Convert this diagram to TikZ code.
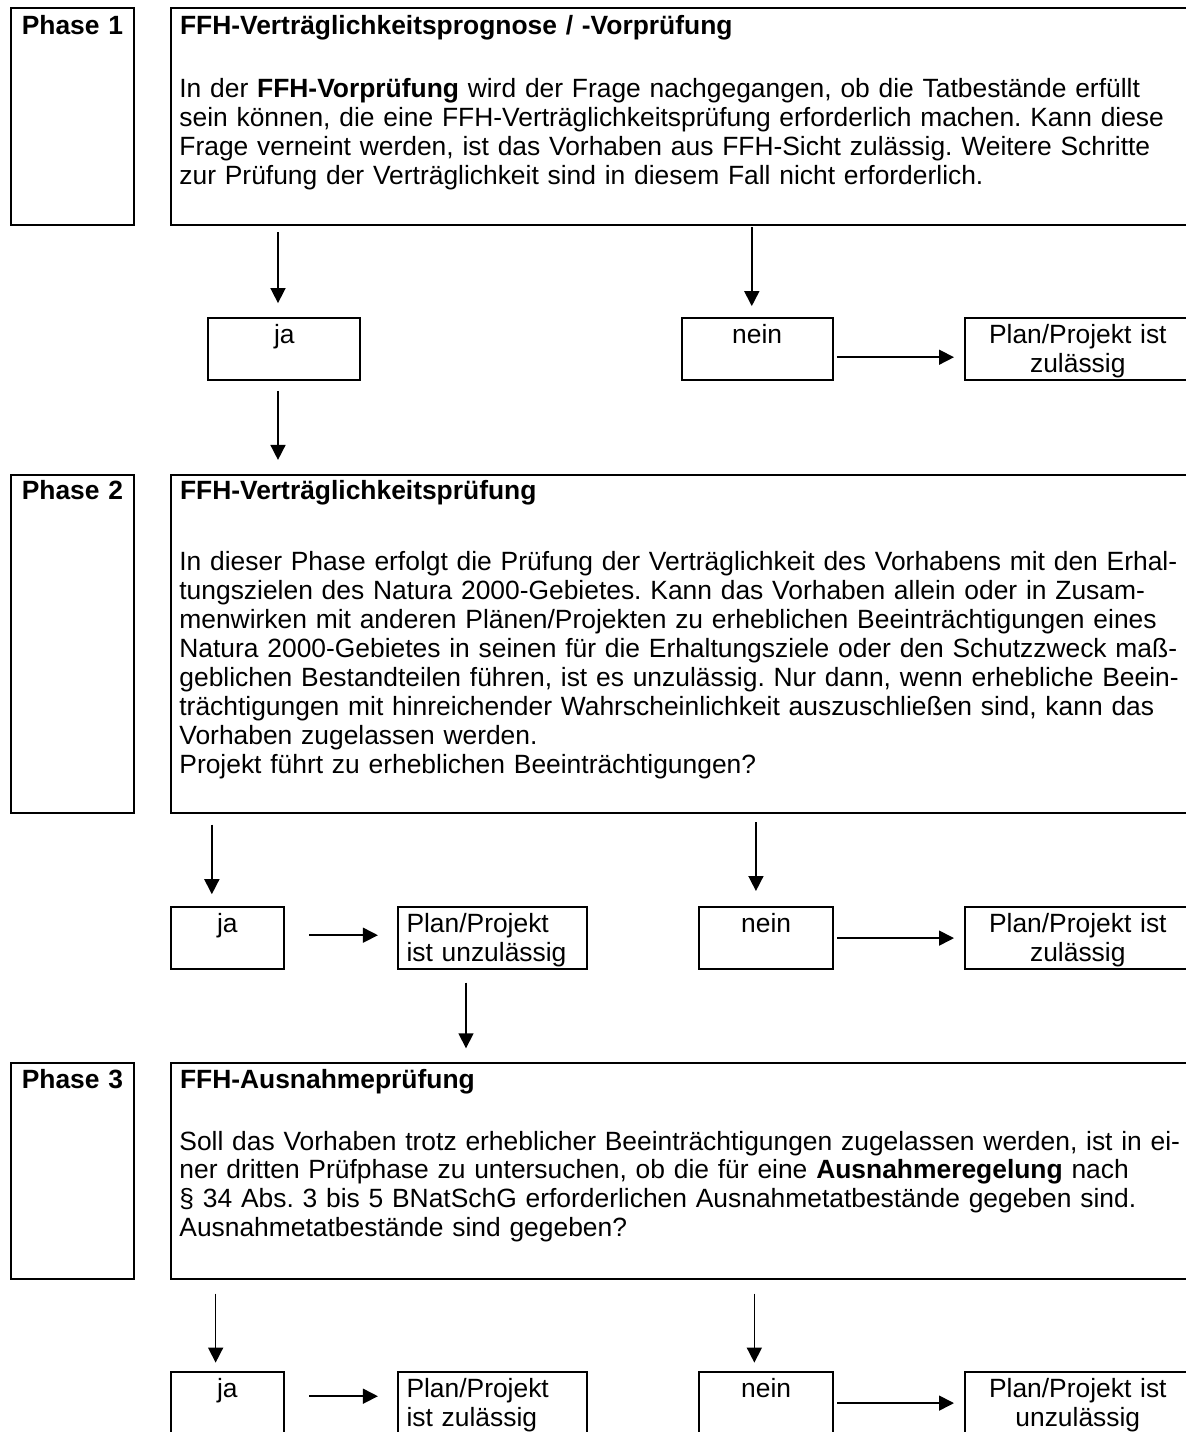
\documentclass[tikz,border=0pt]{standalone}
\usepackage{fontspec}
\setmainfont{Liberation Sans}
\usepackage{tikz}
\usetikzlibrary{calc, positioning, arrows.meta}
\newcommand{\boxfont}{\fontsize{13.2pt}{14.45pt}\selectfont\frenchspacing}
\tikzstyle{outline}=[draw, line width=1pt, anchor=north west, inner ysep=0pt]
\tikzstyle{phase}=[outline, inner xsep=0pt, text width=61.8pt, align=center, font=\boxfont\bfseries, text height=13pt]
\tikzstyle{stage}=[outline, inner xsep=4.5pt, text width=501pt, align=left, font=\boxfont\bfseries, text height=13pt]
\tikzstyle{body}=[anchor=base west, inner sep=0pt, text width=505pt, align=left, font=\boxfont]
\tikzstyle{choice}=[outline, inner xsep=4.5pt, align=center, font=\boxfont, text height=12.8pt, text depth=18.3pt]
\tikzstyle{arr}=[->, line width=0.8pt]
\tikzset{>={Triangle[length=7.5pt, width=7.5pt]}}

\begin{document}
\begin{tikzpicture}[x=0.5pt, y=-0.5pt]
\useasboundingbox (0,0) rectangle (1186,1432);
\clip (0,0) rectangle (1186,1432);
%
\node[phase, text depth=95.35pt] (ph1) at (9.6,7.3) {Phase 1};
\node[stage, text depth=95.35pt] (p1) at (170,7.3) {FFH-Verträglichkeitsprognose / -Vorprüfung};
\node[body] (t1) at (179,97.3) {In der \textbf{FFH-Vorprüfung} wird der Frage nachgegangen, ob die Tatbestände erfüllt\\
sein können, die eine FFH-Verträglichkeitsprüfung erforderlich machen. Kann diese\\
Frage verneint werden, ist das Vorhaben aus FFH-Sicht zulässig. Weitere Schritte\\
zur Prüfung der Verträglichkeit sind in diesem Fall nicht erforderlich.};
%
\node[choice, text width=67pt] (ja1) at (207.4,316.7) {ja};
\node[choice, text width=66.6pt] (nein1) at (680.5,316.7) {nein};
\node[choice, text width=104.2pt] (res1) at (963.6,316.7) {Plan/Projekt ist\\zulässig};
%
\node[phase, text height=12pt, text depth=157pt] (ph2) at (9.6,474.3) {Phase 2};
\node[stage, text height=12pt, text depth=157pt] (p2) at (170,474.3) {FFH-Verträglichkeitsprüfung};
\node[body] (t2) at (179,570.7) {In dieser Phase erfolgt die Prüfung der Verträglichkeit des Vorhabens mit den Erhal-\\
tungszielen des Natura 2000-Gebietes. Kann das Vorhaben allein oder in Zusam-\\
menwirken mit anderen Plänen/Projekten zu erheblichen Beeinträchtigungen eines\\
Natura 2000-Gebietes in seinen für die Erhaltungsziele oder den Schutzzweck maß-\\
geblichen Bestandteilen führen, ist es unzulässig. Nur dann, wenn erhebliche Beein-\\
trächtigungen mit hinreichender Wahrscheinlichkeit auszuschließen sind, kann das\\
Vorhaben zugelassen werden.\\
Projekt führt zu erheblichen Beeinträchtigungen?};
%
\node[choice, text width=47.85pt] (ja2) at (169.5,906) {ja};
\node[choice, text width=85.9pt, align=left] (unz2) at (396.5,906) {Plan/Projekt\\ist unzulässig};
\node[choice, text width=57.85pt] (nein2) at (698.3,906) {nein};
\node[choice, text width=104.2pt] (res2) at (963.6,906) {Plan/Projekt ist\\zulässig};
%
\node[phase, text depth=95pt] (ph3) at (9.6,1061.7) {Phase 3};
\node[stage, text depth=95pt] (p3) at (170,1061.7) {FFH-Ausnahmeprüfung};
\node[body] (t3) at (179,1150) {Soll das Vorhaben trotz erheblicher Beeinträchtigungen zugelassen werden, ist in ei-\\
ner dritten Prüfphase zu untersuchen, ob die für eine \textbf{Ausnahmeregelung} nach\\
§ 34 Abs. 3 bis 5 BNatSchG erforderlichen Ausnahmetatbestände gegeben sind.\\
Ausnahmetatbestände sind gegeben?};
%
\node[choice, text width=47.85pt] (ja3) at (169.5,1371) {ja};
\node[choice, text width=85.9pt, align=left] (zul3) at (396.5,1371) {Plan/Projekt\\ist zulässig};
\node[choice, text width=57.85pt] (nein3) at (698.3,1371) {nein};
\node[choice, text width=104.2pt] (res3) at (963.6,1371) {Plan/Projekt ist\\unzulässig};
%
\draw[arr, shorten <=3pt, shorten >=6.8pt] ($(ja1.north |- p1.south)+(-6.4,0)$) -- ($(ja1.north)+(-6.4,0)$);
\draw[arr, shorten <=0.5pt, shorten >=5.3pt] ($(nein1.north |- p1.south)+(-5.3,0)$) -- ($(nein1.north)+(-5.3,0)$);
\draw[arr, shorten <=1.6pt, shorten >=4.8pt] ($(nein1.east)+(0,8.4)$) -- ($(nein1.east -| res1.west)+(0,8.4)$);
\draw[arr, shorten <=5pt, shorten >=7.2pt] ($(ja1.south)+(-6.4,0)$) -- ($(ja1.south |- p2.north)+(-6.4,0)$);
%
\draw[arr, shorten <=5.2pt, shorten >=5.9pt] ($(ja2.north |- p2.south)+(-15.5,0)$) -- ($(ja2.north)+(-15.5,0)$);
\draw[arr, shorten <=3.9pt, shorten >=7.5pt] ($(nein2.north |- p2.south)+(-10.2,0)$) -- ($(nein2.north)+(-10.2,0)$);
\draw[arr, shorten <=11.9pt, shorten >=9.3pt] ($(ja2.east)+(0,-2.9)$) -- ($(ja2.east -| unz2.west)+(0,-2.9)$);
\draw[arr, shorten <=1.5pt, shorten >=4.8pt] (nein2.east) -- (nein2.east -| res2.west);
\draw[arr, shorten <=6.2pt, shorten >=6.7pt] ($(unz2.south)+(-26.4,0)$) -- ($(unz2.south |- p3.north)+(-26.4,0)$);
%
\draw[arr, shorten <=7pt, shorten >=4.2pt] ($(ja3.north |- p3.south)+(-11.7,0)$) -- ($(ja3.north)+(-11.7,0)$);
\draw[arr, shorten <=7pt, shorten >=4.2pt] ($(nein3.north |- p3.south)+(-11.8,0)$) -- ($(nein3.north)+(-11.8,0)$);
\draw[arr, shorten <=11.9pt, shorten >=9.3pt] ($(ja3.east)+(0,-6.9)$) -- ($(ja3.east -| zul3.west)+(0,-6.9)$);
\draw[arr, shorten <=1.5pt, shorten >=4.8pt] (nein3.east) -- (nein3.east -| res3.west);
\end{tikzpicture}
\end{document}
